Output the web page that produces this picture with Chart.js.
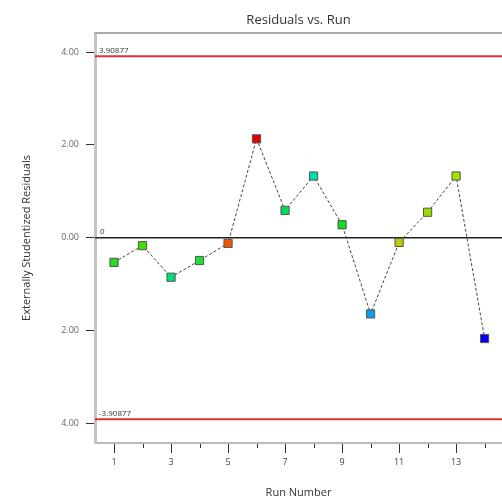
<!DOCTYPE html>
<html>
<head>
<meta charset="utf-8">
<script src="https://cdn.jsdelivr.net/npm/chart.js@4.4.1/dist/chart.umd.min.js"></script>
<style>
  html, body { margin: 0; padding: 0; background: #fff; }
  #wrap { width: 502px; height: 503px; }
</style>
</head>
<body>
<div id="wrap"><canvas id="residuals"></canvas></div>
<script>
// run order and externally studentized residuals
const runs = [1, 2, 3, 4, 5, 6, 7, 8, 9, 10, 11, 12, 13, 14];
const residuals = [-0.53, -0.17, -0.85, -0.49, -0.12, 2.13, 0.59, 1.33, 0.28, -1.64, -0.10, 0.55, 1.33, -2.17];
const pointColors = ['#22dd22', '#44dd00', '#00dd77', '#22dd33', '#ee5500', '#dd0000', '#00dd55',
	'#00ddaa', '#11dd22', '#1199ee', '#bbcc00', '#99dd00', '#aadd00', '#0000ee'];
const limits = [3.90877, -3.90877];
const limitLabels = ['3.90877', '-3.90877'];
const yTicks = [-4, -2, 0, 2, 4];
const xLabelled = [1, 3, 5, 7, 9, 11, 13];
const chartTitle = 'Residuals vs. Run';

const font = "'Open Sans', 'Noto Sans', sans-serif";

// limit lines, zero line, frame, minor ticks and the title centred over the plot
const refLines = {
	id: 'refLines',
	beforeDatasetsDraw(chart) {
		const {ctx, chartArea: a, scales: {x, y}} = chart;
		ctx.save();
		// frame top
		ctx.strokeStyle = '#aaaaaa';
		ctx.lineWidth = 2;
		ctx.beginPath();
		ctx.moveTo(a.left, a.top);
		ctx.lineTo(a.right, a.top);
		ctx.stroke();
		// zero
		const y0 = y.getPixelForValue(0);
		ctx.strokeStyle = '#222';
		ctx.lineWidth = 1.5;
		ctx.beginPath();
		ctx.moveTo(a.left, y0);
		ctx.lineTo(a.right, y0);
		ctx.stroke();
		ctx.fillStyle = '#333';
		ctx.font = '8px ' + font;
		ctx.textBaseline = 'bottom';
		ctx.fillText('0', a.left + 5, y0 - 2);
		// limits
		limits.forEach((v, i) => {
			const py = y.getPixelForValue(v);
			ctx.strokeStyle = '#dd3333';
			ctx.lineWidth = 2;
			ctx.beginPath();
			ctx.moveTo(a.left, py);
			ctx.lineTo(a.right, py);
			ctx.stroke();
			ctx.fillStyle = '#333';
			ctx.fillText(limitLabels[i], a.left + 4, py - 2);
		});
		// minor x ticks
		ctx.strokeStyle = '#333';
		ctx.lineWidth = 1;
		runs.filter(r => xLabelled.indexOf(r) < 0).forEach(r => {
			const px = Math.round(x.getPixelForValue(r)) + 0.5;
			ctx.beginPath();
			ctx.moveTo(px, a.bottom + 1);
			ctx.lineTo(px, a.bottom + 5);
			ctx.stroke();
		});
		// title
		ctx.fillStyle = '#333';
		ctx.font = '13px ' + font;
		ctx.textAlign = 'center';
		ctx.textBaseline = 'middle';
		ctx.fillText(chartTitle, (a.left + a.right) / 2, 20);
		ctx.restore();
	}
};

new Chart(document.getElementById('residuals'), {
	type: 'line',
	data: {
		datasets: [{
			data: runs.map((r, i) => ({x: r, y: residuals[i]})),
			borderColor: '#444',
			borderWidth: 1,
			borderDash: [3, 2],
			pointStyle: 'rect',
			pointRadius: 5.8,
			pointBackgroundColor: pointColors,
			pointBorderColor: '#555',
			pointBorderWidth: 1,
			tension: 0
		}]
	},
	options: {
		responsive: true,
		maintainAspectRatio: false,
		animation: false,
		layout: { padding: { top: 33, left: 0, right: 0, bottom: 0 }, autoPadding: false },
		plugins: {
			legend: { display: false },
			tooltip: { enabled: false },
			title: { display: false }
		},
		scales: {
			x: {
				type: 'linear',
				min: 0.333,
				max: 14.61,
				afterFit(s) { s.height = 60; },
				afterBuildTicks(s) { s.ticks = xLabelled.map(v => ({value: v})); },
				border: { color: '#bbbbbb', width: 2 },
				grid: { drawOnChartArea: false, tickLength: 10, color: '#333' },
				ticks: {
					color: '#444',
					padding: 4,
					maxRotation: 0,
					font: { family: font, size: 9 },
					callback: v => String(v)
				},
				title: {
					display: true,
					text: 'Run Number',
					color: '#333',
					font: { family: font, size: 11 },
					padding: { top: 0, bottom: 4 }
				}
			},
			y: {
				min: -4.42,
				max: 4.41,
				afterFit(s) { s.width = 95; },
				afterBuildTicks(s) { s.ticks = yTicks.map(v => ({value: v})); },
				border: { color: '#c4c4c4', width: 3 },
				grid: { drawOnChartArea: false, tickLength: 9, color: '#333' },
				ticks: {
					color: '#666',
					padding: 7,
					font: { family: font, size: 9 },
					callback: v => Math.abs(v).toFixed(2)
				},
				title: {
					display: true,
					text: 'Externally Studentized Residuals',
					color: '#333',
					font: { family: font, size: 11 },
					padding: { top: 20, bottom: 0 }
				}
			}
		}
	},
	plugins: [refLines]
});
</script>
</body>
</html>
